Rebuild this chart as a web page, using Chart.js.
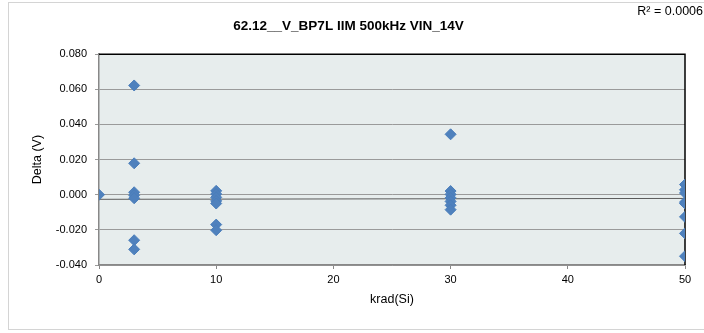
<!DOCTYPE html>
<html>
<head>
<meta charset="utf-8">
<script src="https://cdn.jsdelivr.net/npm/chart.js@4"></script>
<style>
  html, body { margin: 0; padding: 0; background: #fff; }
  canvas { display: block; }
</style>
</head>
<body>
<canvas id="chart" width="704" height="333"></canvas>
<script>
const chartTitle = '62.12__V_BP7L IIM 500kHz VIN_14V'
const rSquared = 'R\u00b2 = 0.0006'

// krad(Si) dose levels and the deltas read at each one
const dose0 = [0.0000]
const dose3 = [0.0622, 0.0179, 0.0014, -0.0003, -0.0020, -0.0259, -0.0311]
const dose10 = [0.0022, 0.0004, -0.0015, -0.0035, -0.0050, -0.0170, -0.0202]
const dose30 = [0.0344, 0.0021, 0.0002, -0.0018, -0.0038, -0.0060, -0.0085]
const dose50 = [0.0058, 0.0028, 0.0010, -0.0042, -0.0050, -0.0126, -0.0220, -0.0350]

// linear trendline ends (x = 0 and x = 50)
const trendX = [0, 50]
const trendY = [-0.0026, -0.0021]

const xTicks = [0, 10, 20, 30, 40, 50]
const yTicks = [-0.04, -0.02, 0, 0.02, 0.04, 0.06, 0.08]

const fontFam = "'Liberation Sans', Arial, sans-serif"

const points = []
;[[0, dose0], [3, dose3], [10, dose10], [30, dose30], [50, dose50]].forEach(([x, ys]) => {
  ys.forEach(y => points.push({ x: x, y: y }))
})

const frame = {
  id: 'frame',
  beforeDraw(chart) {
    const { ctx, chartArea: a } = chart
    ctx.save()
    ctx.fillStyle = '#fff'
    ctx.fillRect(0, 0, chart.width, chart.height)
    ctx.strokeStyle = '#d4d4d4'
    ctx.lineWidth = 1
    ctx.strokeRect(8.5, 2.5, chart.width + 5, 327)
    ctx.fillStyle = '#e7eded'
    ctx.fillRect(a.left, a.top, a.right - a.left, a.bottom - a.top)
    ctx.restore()
  },
  beforeDatasetsDraw(chart) {
    const { ctx, chartArea: a } = chart
    ctx.save()
    ctx.strokeStyle = '#000'
    ctx.lineWidth = 1.5
    ctx.beginPath()
    ctx.moveTo(a.left, a.top)
    ctx.lineTo(a.right, a.top)
    ctx.lineTo(a.right, a.bottom)
    ctx.stroke()
    ctx.restore()
  },
  afterDraw(chart) {
    const { ctx } = chart
    ctx.save()
    ctx.fillStyle = '#000'
    ctx.font = '12.5px ' + fontFam
    ctx.textAlign = 'right'
    ctx.textBaseline = 'middle'
    ctx.fillText(rSquared, 703, 12)
    ctx.restore()
  }
}

new Chart(document.getElementById('chart'), {
  type: 'scatter',
  data: {
    datasets: [
      {
        label: 'Delta',
        data: points,
        pointStyle: 'rectRot',
        pointRadius: 5.5,
        pointHoverRadius: 5.5,
        backgroundColor: '#4f81bd',
        borderColor: '#4a7ebb',
        borderWidth: 1
      },
      {
        label: 'Linear',
        type: 'line',
        data: trendX.map((x, i) => ({ x: x, y: trendY[i] })),
        borderColor: '#5a5a5a',
        borderWidth: 1,
        pointRadius: 0,
        fill: false
      }
    ]
  },
  options: {
    responsive: false,
    animation: false,
    devicePixelRatio: 1,
    layout: { padding: { left: 12, right: 19, top: 0, bottom: 0 } },
    plugins: {
      legend: { display: false },
      tooltip: { enabled: false },
      title: {
        display: true,
        text: chartTitle,
        color: '#000',
        font: { family: fontFam, size: 13.5, weight: 'bold' },
        padding: { top: 18, bottom: 20 }
      }
    },
    scales: {
      x: {
        type: 'linear',
        min: 0,
        max: 50,
        afterBuildTicks: s => { s.ticks = xTicks.map(v => ({ value: v })) },
        afterFit: s => { s.height = 68 },
        grid: { drawOnChartArea: false, drawTicks: true, tickLength: 4, color: '#888' },
        border: { color: '#888', width: 1.5 },
        ticks: { color: '#000', padding: 4, font: { family: fontFam, size: 11 } },
        title: {
          display: true,
          text: 'krad(Si)',
          color: '#000',
          font: { family: fontFam, size: 12.5 },
          padding: { top: 4, bottom: 26 }
        }
      },
      y: {
        type: 'linear',
        min: -0.04,
        max: 0.08,
        afterBuildTicks: s => { s.ticks = yTicks.map(v => ({ value: v })) },
        afterFit: s => { s.width = 87 },
        grid: { color: '#9a9a9a', lineWidth: 1, tickLength: 4 },
        border: { color: '#888', width: 1.5 },
        ticks: {
          color: '#000',
          padding: 8,
          font: { family: fontFam, size: 11 },
          callback: v => v.toFixed(3)
        },
        title: {
          display: true,
          text: 'Delta (V)',
          color: '#000',
          font: { family: fontFam, size: 12.5 },
          padding: { top: 18, bottom: 4 }
        }
      }
    }
  },
  plugins: [frame]
})
</script>
</body>
</html>
